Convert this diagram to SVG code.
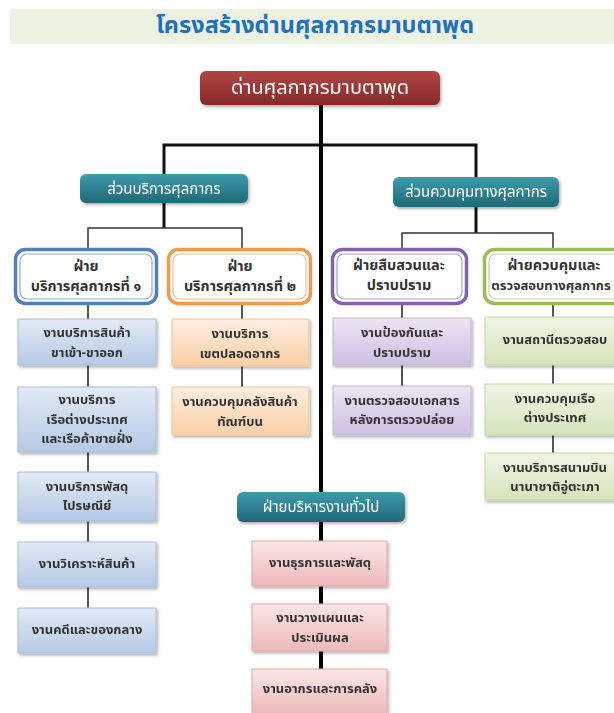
<svg xmlns="http://www.w3.org/2000/svg" width="614" height="713" viewBox="0 0 614 713">
<defs>
<linearGradient id="gRed" x1="0" y1="0" x2="0" y2="1"><stop offset="0" stop-color="#b24545"/><stop offset="1" stop-color="#872a2a"/></linearGradient>
<linearGradient id="gTeal" x1="0" y1="0" x2="0" y2="1"><stop offset="0" stop-color="#3f9aab"/><stop offset="1" stop-color="#1f6978"/></linearGradient>
<linearGradient id="gBlue" x1="0" y1="0" x2="0" y2="1"><stop offset="0" stop-color="#e2eaf5"/><stop offset="1" stop-color="#b5c9e5"/></linearGradient>
<linearGradient id="gOrange" x1="0" y1="0" x2="0" y2="1"><stop offset="0" stop-color="#fdeee0"/><stop offset="1" stop-color="#f9cfa5"/></linearGradient>
<linearGradient id="gPurple" x1="0" y1="0" x2="0" y2="1"><stop offset="0" stop-color="#ebe5f3"/><stop offset="1" stop-color="#cdbfe2"/></linearGradient>
<linearGradient id="gGreen" x1="0" y1="0" x2="0" y2="1"><stop offset="0" stop-color="#eff5e4"/><stop offset="1" stop-color="#d5e4bb"/></linearGradient>
<linearGradient id="gPink" x1="0" y1="0" x2="0" y2="1"><stop offset="0" stop-color="#fbe6e6"/><stop offset="1" stop-color="#eeb8b8"/></linearGradient>
<filter id="sh" x="-10%" y="-10%" width="130%" height="140%"><feDropShadow dx="1.5" dy="2" stdDeviation="1.5" flood-color="#000" flood-opacity="0.3"/></filter>
</defs>
<style>
text{font-family:"Noto Sans Thai","Tahoma","Noto Sans","DejaVu Sans",sans-serif;text-anchor:middle;dominant-baseline:central}
.title{font-size:23.5px;fill:#1f72b8;font-weight:bold}
.wt{fill:#fff;font-size:15px}
.lv3{fill:#333;font-size:14.5px;font-weight:bold}
.bx{fill:#333;font-size:13px;font-weight:bold}
.thick{stroke:#000;stroke-width:4;fill:none}
.mid{stroke:#111;stroke-width:3;fill:none}
.thin{stroke:#333;stroke-width:1.5;fill:none}
.col{stroke:#555;stroke-width:2;fill:none}
.blue rect.b{fill:url(#gBlue);stroke:#a9bcd8;stroke-width:1}
.orange rect.b{fill:url(#gOrange);stroke:#efc59c;stroke-width:1}
.purple rect.b{fill:url(#gPurple);stroke:#c2b3da;stroke-width:1}
.green rect.b{fill:url(#gGreen);stroke:#c6d8a8;stroke-width:1}
.pink rect.b{fill:url(#gPink);stroke:#e2a8a8;stroke-width:1}
</style>
<rect width="614" height="713" fill="#fff"/>
<g id="title">
<rect x="10" y="9" width="604" height="35" fill="#edf1e1"/>
<text class="title" x="315" y="26">โครงสร้างด่านศุลกากรมาบตาพุด</text>
</g>
<g id="connectors">
<line class="thick" x1="321" y1="104" x2="321" y2="713"/>
<polyline class="mid" points="164,176 164,145 476,145 476,179"/>
<line class="mid" x1="164" y1="203" x2="164" y2="228"/>
<line class="mid" x1="476" y1="207" x2="476" y2="233"/>
<polyline class="thin" points="88,248 88,228 242,228 242,248"/>
<polyline class="thin" points="402,248 402,233 553,233 553,248"/>
<line class="col" x1="88" y1="304" x2="88" y2="608"/>
<line class="col" x1="242" y1="304" x2="242" y2="387"/>
<line class="col" x1="402" y1="304" x2="402" y2="386"/>
<line class="col" x1="553" y1="304" x2="553" y2="453"/>
</g>
<g id="n-top" filter="url(#sh)">
<rect x="200" y="71" width="240" height="34" rx="6" fill="url(#gRed)"/>
<text x="320" y="88" fill="#fff" style="font-size:20px">ด่านศุลกากรมาบตาพุด</text>
</g>
<g id="n-service" filter="url(#sh)">
<rect x="80" y="174" width="168" height="29" rx="6" fill="url(#gTeal)"/>
<text class="wt" x="164" y="189">ส่วนบริการศุลกากร</text>
</g>
<g id="n-control" filter="url(#sh)">
<rect x="393" y="177" width="166" height="30" rx="6" fill="url(#gTeal)"/>
<text class="wt" x="476" y="192">ส่วนควบคุมทางศุลกากร</text>
</g>
<g id="n-div1">
<rect x="15.5" y="249.5" width="141" height="54" rx="10" fill="#fff" stroke="#4f7fbf" stroke-width="3.5"/>
<rect x="20" y="254" width="132" height="45" rx="7" fill="none" stroke="#8eaad4" stroke-width="1.2"/>
<text class="lv3" x="86" y="267">ฝ่าย</text>
<text class="lv3" x="86" y="287">บริการศุลกากรที่ ๑</text>
</g>
<g id="n-div2">
<rect x="168.5" y="249.5" width="142" height="54" rx="10" fill="#fff" stroke="#f09a4e" stroke-width="3.5"/>
<rect x="173" y="254" width="133" height="45" rx="7" fill="none" stroke="#f5bd8a" stroke-width="1.2"/>
<text class="lv3" x="240" y="267">ฝ่าย</text>
<text class="lv3" x="240" y="287">บริการศุลกากรที่ ๒</text>
</g>
<g id="n-div3">
<rect x="332.5" y="249.5" width="134" height="54" rx="10" fill="#fff" stroke="#8461ab" stroke-width="3.5"/>
<rect x="337" y="254" width="125" height="45" rx="7" fill="none" stroke="#b29ccf" stroke-width="1.2"/>
<text class="lv3" x="399" y="266">ฝ่ายสืบสวนและ</text>
<text class="lv3" x="399" y="286">ปราบปราม</text>
</g>
<g id="n-div4">
<rect x="484.5" y="249.5" width="146" height="54" rx="10" fill="#fff" stroke="#9bbb59" stroke-width="3.5"/>
<rect x="489" y="254" width="137" height="45" rx="7" fill="none" stroke="#c1d59b" stroke-width="1.2"/>
<text class="lv3" x="554" y="266">ฝ่ายควบคุมและ</text>
<text class="lv3" x="551" y="286" style="font-size:13px">ตรวจสอบทางศุลกากร</text>
</g>
<g id="n-b1" class="blue" filter="url(#sh)"><rect class="b" x="18" y="319" width="138" height="46"/><text class="bx" x="87" y="333">งานบริการสินค้า</text><text class="bx" x="87" y="353">ขาเข้า-ขาออก</text></g>
<g id="n-b2" class="blue" filter="url(#sh)"><rect class="b" x="18" y="387" width="138" height="65"/><text class="bx" x="87" y="400">งานบริการ</text><text class="bx" x="87" y="419.5">เรือต่างประเทศ</text><text class="bx" x="87" y="439">และเรือค้าชายฝั่ง</text></g>
<g id="n-b3" class="blue" filter="url(#sh)"><rect class="b" x="18" y="472" width="138" height="49"/><text class="bx" x="87" y="487">งานบริการพัสดุ</text><text class="bx" x="87" y="506">ไปรษณีย์</text></g>
<g id="n-b4" class="blue" filter="url(#sh)"><rect class="b" x="18" y="542" width="138" height="45"/><text class="bx" x="87" y="564">งานวิเคราะห์สินค้า</text></g>
<g id="n-b5" class="blue" filter="url(#sh)"><rect class="b" x="18" y="608" width="138" height="45"/><text class="bx" x="87" y="630">งานคดีและของกลาง</text></g>
<g id="n-o1" class="orange" filter="url(#sh)"><rect class="b" x="172" y="319" width="137" height="47"/><text class="bx" x="240" y="334">งานบริการ</text><text class="bx" x="240" y="354">เขตปลอดอากร</text></g>
<g id="n-o2" class="orange" filter="url(#sh)"><rect class="b" x="172" y="387" width="137" height="48"/><text class="bx" x="240" y="402">งานควบคุมคลังสินค้า</text><text class="bx" x="240" y="422">ทัณฑ์บน</text></g>
<g id="n-p1" class="purple" filter="url(#sh)"><rect class="b" x="333" y="318" width="138" height="47"/><text class="bx" x="402" y="333">งานป้องกันและ</text><text class="bx" x="402" y="353">ปราบปราม</text></g>
<g id="n-p2" class="purple" filter="url(#sh)"><rect class="b" x="333" y="386" width="138" height="49"/><text class="bx" x="402" y="401">งานตรวจสอบเอกสาร</text><text class="bx" x="402" y="420">หลังการตรวจปล่อย</text></g>
<g id="n-g1" class="green" filter="url(#sh)"><rect class="b" x="485" y="317" width="140" height="48"/><text class="bx" x="555" y="340">งานสถานีตรวจสอบ</text></g>
<g id="n-g2" class="green" filter="url(#sh)"><rect class="b" x="485" y="384" width="140" height="51"/><text class="bx" x="555" y="399">งานควบคุมเรือ</text><text class="bx" x="555" y="418">ต่างประเทศ</text></g>
<g id="n-g3" class="green" filter="url(#sh)"><rect class="b" x="485" y="453" width="140" height="47"/><text class="bx" x="555" y="468">งานบริการสนามบิน</text><text class="bx" x="555" y="487">นานาชาติอู่ตะเภา</text></g>
<g id="n-admin" filter="url(#sh)">
<rect x="237" y="492" width="168" height="30" rx="6" fill="url(#gTeal)"/>
<text class="wt" x="321" y="507">ฝ่ายบริหารงานทั่วไป</text>
</g>
<g id="n-k1" class="pink" filter="url(#sh)"><rect class="b" x="252" y="541" width="135" height="45"/><text class="bx" x="320" y="563">งานธุรการและพัสดุ</text></g>
<g id="n-k2" class="pink" filter="url(#sh)"><rect class="b" x="252" y="604" width="135" height="47"/><text class="bx" x="320" y="618">งานวางแผนและ</text><text class="bx" x="320" y="638">ประเมินผล</text></g>
<g id="n-k3" class="pink" filter="url(#sh)"><rect class="b" x="252" y="669" width="135" height="46"/><text class="bx" x="320" y="689">งานอากรและการคลัง</text></g>
</svg>
